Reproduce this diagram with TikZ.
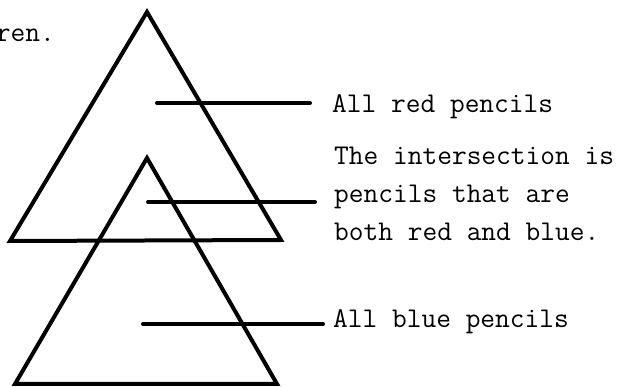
\documentclass[tikz,border=0pt]{standalone}
\usepackage{fontspec}
\usetikzlibrary{positioning,calc}
\tikzset{
  font=\ttfamily\fontsize{28.6}{35}\selectfont,
  setline/.style={line width=4pt, draw=black, line join=miter},
  leader/.style={line width=4pt, draw=black, line cap=round},
  label/.style={inner sep=0pt, anchor=base west, align=left, text=black}
}

\begin{document}
\begin{tikzpicture}[x=1pt,y=1pt]
\useasboundingbox (0,0) rectangle (625,-387);

% Sets
\draw[setline] (147,-12) -- (281,-240) -- (10,-241) -- cycle;
\draw[setline] (147,-158) -- (277,-384) -- (15,-384) -- cycle;

% Text
\node[label, anchor=base east] (tail) at (55,-42) {ren.};
\node[label] (red) at (332,-113) {All red pencils};
\node[label] (both) at (334,-241) {The intersection is\\[3pt]pencils that are\\[3pt]both red and blue.};
\node[label] (blue) at (333,-328) {All blue pencils};

% Leaders
\coordinate (redin) at (157,-103);
\coordinate (bothin) at (148,-202);
\coordinate (bluein) at (143,-324);
\draw[leader, shorten >=22pt] (redin) -- (redin -| red.west);
\draw[leader, shorten >=19pt] (bothin) -- (bothin -| both.west);
\draw[leader, shorten >=10pt] (bluein) -- (bluein -| blue.west);

\end{tikzpicture}
\end{document}
